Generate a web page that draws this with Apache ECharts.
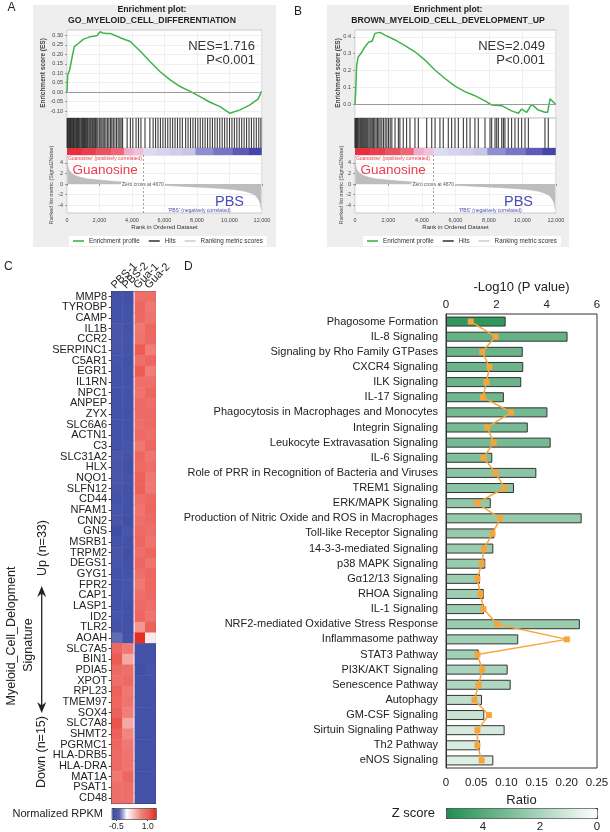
<!DOCTYPE html>
<html>
<head>
<meta charset="utf-8">
<script src="https://cdn.jsdelivr.net/npm/echarts@6/dist/echarts.min.js"></script>
<style>
  html, body { margin: 0; padding: 0; background: #fff; }
  #chart { width: 610px; height: 832px; }
</style>
</head>
<body>
<div id="chart"></div>
<script>
const FONT = '"Liberation Sans", Arial, sans-serif'

// ---- panel A / B : GSEA running enrichment score ----
const esRankA = [0, 40, 160, 300, 450, 715, 1020, 1200, 1430, 1600, 1840, 2040, 2200, 2400, 2660, 3000, 3280, 3890, 4500, 5120, 5730, 6350, 6960, 7580, 8190, 8800, 9420, 10030, 10650, 11260, 11770, 11970]
const esValA = [0, 0.09, 0.117, 0.179, 0.24, 0.258, 0.28, 0.285, 0.293, 0.295, 0.298, 0.319, 0.312, 0.31, 0.31, 0.298, 0.287, 0.267, 0.217, 0.161, 0.108, 0.065, 0.03, 0.004, -0.023, -0.053, -0.076, -0.111, -0.093, -0.067, -0.035, 0.005]
const esTicksA = [-0.10, -0.05, 0, 0.05, 0.10, 0.15, 0.20, 0.25, 0.30]

const esRankB = [0, 40, 100, 200, 360, 600, 800, 1030, 1190, 1490, 1790, 2390, 2980, 3580, 4180, 4770, 5370, 5970, 6560, 7160, 7760, 8160, 8760, 9350, 9750, 9950, 10250, 10550, 10950, 11340, 11500, 11640, 11980]
const esValB = [0, 0.075, 0.233, 0.282, 0.302, 0.341, 0.367, 0.375, 0.42, 0.426, 0.41, 0.381, 0.347, 0.311, 0.262, 0.203, 0.153, 0.108, 0.075, 0.051, 0.02, -0.004, -0.008, -0.039, -0.053, -0.028, -0.047, 0.0, -0.034, -0.047, -0.047, 0.032, 0]
const esTicksB = [0, 0.1, 0.2, 0.3, 0.4]

const hitsA = [10, 45, 80, 130, 170, 210, 260, 300, 350, 400, 440, 490, 540, 590, 650, 700, 750, 800, 860, 910, 960, 1020, 1080, 1130, 1190, 1250, 1300, 1370, 1430, 1490, 1560, 1620, 1700, 1760, 1830, 1900, 1990, 2080, 2150, 2230, 2320, 2400, 2500, 2580, 2680, 2760, 2850, 2950, 3050, 3150, 3250, 3330, 3420, 3700, 3900, 4050, 4250, 4400, 4550, 4800, 5100, 5300, 5450, 5600, 5750, 5900, 6050, 6200, 6350, 6500, 6650, 6800, 6950, 7100, 7300, 7450, 7600, 7750, 7900, 8050, 8200, 8350, 8500, 8650, 8800, 8950, 9100, 9250, 9400, 9550, 9700, 9850, 10000, 10150, 10300, 10450, 10600, 10750, 10900, 11050, 11200, 11350, 11500, 11650, 11800, 11930]
const hitsB = [0, 40, 90, 140, 190, 240, 300, 350, 400, 460, 520, 580, 640, 700, 760, 830, 900, 960, 1030, 1100, 1180, 1260, 1340, 1420, 1500, 1600, 1700, 1800, 1900, 2000, 2100, 2200, 2390, 2590, 2680, 2880, 3080, 3280, 3580, 3780, 4280, 4580, 4780, 5070, 5270, 5570, 5770, 5970, 6170, 6470, 6670, 6870, 7160, 7360, 7760, 8060, 8160, 8360, 8460, 8560, 8760, 8860, 8950, 9150, 9350, 9550, 9750, 9950, 10150, 10350, 11340, 11540]

const metricRank = [0, 30, 80, 150, 300, 500, 800, 1200, 1800, 2500, 3200, 4000, 4670, 5500, 6500, 7500, 8500, 9500, 10300, 10900, 11300, 11600, 11800, 11900, 11950]
const metricVal = [4.8, 3.8, 3.0, 2.5, 2.0, 1.6, 1.3, 1.0, 0.8, 0.6, 0.45, 0.25, 0, -0.2, -0.35, -0.5, -0.65, -0.85, -1.05, -1.35, -1.7, -2.2, -3.0, -3.8, -4.8]
const metricTicks = [-4, -2, 0, 2, 4]

const bandEdges = [0, 900, 1800, 2700, 3500, 4100, 4700, 5500, 6300, 7100, 7900, 9000, 10200, 11200, 11950]
const bandColors = ['#e5303d', '#e83f4e', '#ea5262', '#ec6676', '#f0acc9', '#edc2da', '#dddbf0', '#d6d4ee', '#cfcdeb', '#c8c6e8', '#8e8ed2', '#7676c6', '#5c5cb8', '#4444aa']

// ---- panel C : heatmap ----
const samples = ['PBS-1', 'PBS-2', 'Gua-1', 'Gua-2']
const genes = ['MMP8', 'TYROBP', 'CAMP', 'IL1B', 'CCR2', 'SERPINC1', 'C5AR1', 'EGR1', 'IL1RN', 'NPC1', 'ANPEP', 'ZYX', 'SLC6A6', 'ACTN1', 'C3', 'SLC31A2', 'HLX', 'NQO1', 'SLFN12', 'CD44', 'NFAM1', 'CNN2', 'GNS', 'MSRB1', 'TRPM2', 'DEGS1', 'GYG1', 'FPR2', 'CAP1', 'LASP1', 'ID2', 'TLR2', 'AOAH',
  'SLC7A5', 'BIN1', 'PDIA5', 'XPOT', 'RPL23', 'TMEM97', 'SOX4', 'SLC7A8', 'SHMT2', 'PGRMC1', 'HLA-DRB5', 'HLA-DRA', 'MAT1A', 'PSAT1', 'CD48']
const pbs1 = [-0.62, -0.62, -0.6, -0.55, -0.55, -0.58, -0.58, -0.6, -0.6, -0.62, -0.6, -0.62, -0.6, -0.6, -0.62, -0.55, -0.58, -0.55, -0.58, -0.62, -0.58, -0.56, -0.66, -0.6, -0.56, -0.58, -0.6, -0.62, -0.62, -0.6, -0.58, -0.6, -0.35,
  0.95, 1.05, 0.9, 0.85, 1.0, 0.95, 1.0, 1.1, 1.0, 0.95, 0.9, 0.9, 0.75, 0.85, 0.85]
const pbs2 = [-0.62, -0.6, -0.6, -0.6, -0.58, -0.6, -0.62, -0.6, -0.6, -0.6, -0.6, -0.62, -0.6, -0.6, -0.58, -0.6, -0.62, -0.6, -0.62, -0.6, -0.62, -0.64, -0.56, -0.62, -0.64, -0.62, -0.6, -0.58, -0.58, -0.62, -0.62, -0.62, -0.6,
  0.75, 0.45, 0.85, 0.9, 0.75, 0.8, 0.7, 0.45, 0.65, 0.75, 0.8, 0.8, 0.95, 0.85, 0.85]
const gua1 = [0.85, 0.95, 0.9, 0.75, 0.8, 1.05, 0.85, 1.05, 0.85, 0.8, 0.9, 0.9, 0.85, 0.9, 0.75, 0.95, 0.9, 1.0, 1.0, 0.85, 0.8, 0.85, 0.9, 0.95, 0.85, 0.95, 0.85, 0.75, 0.85, 0.9, 0.95, 0.55, 1.35,
  -0.62, -0.62, -0.64, -0.62, -0.62, -0.62, -0.6, -0.62, -0.62, -0.62, -0.62, -0.62, -0.62, -0.62, -0.62]
const gua2 = [0.85, 0.75, 0.8, 0.95, 0.9, 0.7, 0.95, 0.7, 0.85, 0.95, 0.85, 0.9, 0.9, 0.85, 0.95, 0.8, 0.85, 0.75, 0.75, 0.9, 0.95, 0.9, 0.85, 0.8, 0.95, 0.8, 0.95, 0.95, 0.9, 0.85, 0.8, 1.0, 0.1,
  -0.62, -0.62, -0.58, -0.6, -0.62, -0.62, -0.62, -0.62, -0.62, -0.62, -0.62, -0.62, -0.62, -0.62, -0.62]
const heatColors = ['#3a4aa3', '#5863b1', '#ffffff', '#f7c0bb', '#f07f7a', '#ec5e57', '#e52a1f']
const rpkmTicks = [-0.5, 1.0]

// ---- panel D : pathways ----
const pathways = ['Phagosome Formation', 'IL-8 Signaling', 'Signaling by Rho Family GTPases', 'CXCR4 Signaling', 'ILK Signaling', 'IL-17 Signaling', 'Phagocytosis in Macrophages and Monocytes', 'Integrin Signaling', 'Leukocyte Extravasation Signaling', 'IL-6 Signaling', 'Role of PRR in Recognition of Bacteria and Viruses', 'TREM1 Signaling', 'ERK/MAPK Signaling', 'Production of Nitric Oxide and ROS in Macrophages', 'Toll-like Receptor Signaling', '14-3-3-mediated Signaling', 'p38 MAPK Signaling', 'G\u03b112/13 Signaling', 'RHOA Signaling', 'IL-1 Signaling', 'NRF2-mediated Oxidative Stress Response', 'Inflammasome pathway', 'STAT3 Pathway', 'PI3K/AKT Signaling', 'Senescence Pathway', 'Autophagy', 'GM-CSF Signaling', 'Sirtuin Signaling Pathway', 'Th2 Pathway', 'eNOS Signaling']
const negLogP = [2.37, 4.83, 3.05, 3.07, 2.99, 2.30, 4.03, 3.25, 4.16, 1.84, 3.59, 2.70, 1.78, 5.39, 1.92, 1.88, 1.56, 1.35, 1.50, 1.51, 5.32, 2.87, 1.30, 2.45, 2.57, 1.43, 1.52, 2.33, 1.35, 1.88]
const ratio = [0.041, 0.082, 0.060, 0.072, 0.067, 0.061, 0.108, 0.068, 0.079, 0.062, 0.082, 0.097, 0.051, 0.090, 0.077, 0.063, 0.059, 0.052, 0.057, 0.062, 0.085, 0.200, 0.052, 0.060, 0.054, 0.047, 0.071, 0.052, 0.052, 0.059]
const zScore = [4.9, 3.6, 3.5, 3.5, 3.5, 3.4, 3.3, 3.2, 3.2, 3.0, 2.7, 2.7, 2.6, 2.5, 2.5, 2.4, 2.4, 2.3, 2.3, 2.3, 2.4, 2.2, 2.2, 2.0, 1.9, 1.5, 1.3, 1.0, 0.9, 0.8]
const zTicks = [0, 2, 4]

const grid = [], xAxis = [], yAxis = [], series = [], legend = [], graphic = []

function txt(x, y, text, style, extra) {
  graphic.push(Object.assign({
    type: 'text', x: x, y: y, z: 100,
    style: Object.assign({ text: text, fontFamily: FONT, fontSize: 11, fill: '#222', align: 'left', verticalAlign: 'middle' }, style)
  }, extra || {}))
}

function gsea(p) {
  const L = p.left, W = p.width
  const base = grid.length
  graphic.push({ type: 'rect', z: -10, shape: { x: p.box[0], y: 5, width: p.box[1] - p.box[0], height: 242 }, style: { fill: '#eeeeee' } })
  ;[[30, 88, true], [118, 30, true], [148, 7, false], [155, 58, true]].forEach(g => {
    grid.push({ left: L, top: g[0], width: W, height: g[1], show: g[2], backgroundColor: '#fff', borderColor: '#c8c8c8', borderWidth: 1, outerBoundsMode: 'none' })
  })
  const xi = xAxis.length, yi = yAxis.length
  for (let k = 0; k < 4; k++) {
    xAxis.push({
      type: 'value', gridIndex: base + k, min: 0, max: 12000, interval: 2000,
      axisLine: { show: false },
      axisTick: { show: k === 3, length: 2, lineStyle: { color: '#999' } },
      axisLabel: { show: k === 3, fontSize: 5.5, color: '#444', margin: 4, formatter: v => v.toLocaleString('en-US') },
      splitLine: { show: k === 0 || k === 3, lineStyle: { color: '#ececec', width: 0.8 } }
    })
  }
  Object.assign(xAxis[xi + 3], {
    name: 'Rank in Ordered Dataset', nameLocation: 'middle', nameGap: 11,
    nameTextStyle: { fontSize: 6, color: '#333', fontFamily: FONT }
  })
  yAxis.push({
    type: 'value', gridIndex: base, min: p.esMin, max: p.esMax,
    axisLine: { show: false },
    axisTick: { show: true, customValues: p.esTicks, length: 2, lineStyle: { color: '#999' } },
    axisLabel: { customValues: p.esTicks, fontSize: 5.5, color: '#444', margin: 4, formatter: v => v.toFixed(p.esDigits) },
    splitLine: { lineStyle: { color: '#ececec', width: 0.8 } }
  })
  yAxis.push({ type: 'value', gridIndex: base + 1, min: 0, max: 1, show: false })
  yAxis.push({ type: 'value', gridIndex: base + 2, min: 0, max: 1, show: false })
  yAxis.push({
    type: 'value', gridIndex: base + 3, min: -5.5, max: 5.5,
    axisLine: { show: false },
    axisTick: { show: true, customValues: metricTicks, length: 2, lineStyle: { color: '#999' } },
    axisLabel: { customValues: metricTicks, fontSize: 5.5, color: '#444', margin: 4 },
    splitLine: { lineStyle: { color: '#ececec', width: 0.8 } }
  })

  series.push({
    type: 'line', name: 'Enrichment profile', xAxisIndex: xi, yAxisIndex: yi,
    data: p.esRank.map((r, i) => [r, p.esVal[i]]),
    showSymbol: false, symbol: 'none', color: '#3db449',
    lineStyle: { color: '#3db449', width: 1.5 },
    markLine: { silent: true, symbol: 'none', label: { show: false }, lineStyle: { color: '#9a9a9a', width: 1, type: 'solid' }, data: [{ yAxis: 0 }] }
  })
  series.push({
    type: 'scatter', name: 'Hits', xAxisIndex: xi + 1, yAxisIndex: yi + 1,
    data: p.hits.map(h => [h, 0.5]), symbol: 'rect', symbolSize: [1.1, 30],
    color: '#333', itemStyle: { color: '#1a1a1a', opacity: 0.85 }, silent: true
  })
  series.push({
    type: 'custom', xAxisIndex: xi + 2, yAxisIndex: yi + 2, silent: true,
    data: bandEdges.slice(0, -1).map((s, i) => [s, bandEdges[i + 1], i]),
    encode: { x: [0, 1] },
    renderItem: (params, api) => {
      const a = api.coord([api.value(0), 1])
      const b = api.coord([api.value(1), 0])
      return { type: 'rect', shape: { x: a[0], y: a[1], width: b[0] - a[0] + 0.6, height: b[1] - a[1] }, style: { fill: bandColors[api.value(2)] } }
    }
  })
  series.push({
    type: 'line', name: 'Ranking metric scores', xAxisIndex: xi + 3, yAxisIndex: yi + 3,
    data: metricRank.map((r, i) => [r, metricVal[i]]),
    showSymbol: false, symbol: 'none', color: '#cfcfcf',
    lineStyle: { width: 0.5, color: '#b5b5b5' },
    areaStyle: { color: '#bdbdbd', opacity: 1 },
    markLine: { silent: true, symbol: 'none', label: { show: false }, lineStyle: { color: '#8a8a8a', width: 0.8, type: [2, 2] }, data: [{ xAxis: 4670 }] }
  })
  legend.push({
    left: p.legendLeft, top: 236, data: ['Enrichment profile', 'Hits', 'Ranking metric scores'],
    icon: 'rect', itemWidth: 11, itemHeight: 1.6, itemGap: 9, selectedMode: false,
    textStyle: { fontSize: 6.3, color: '#333', fontFamily: FONT },
    backgroundColor: '#fff', padding: [2, 4]
  })

  txt(p.titleX, 10, 'Enrichment plot:', { fontSize: 8.7, fontWeight: 'bold', align: 'center' })
  txt(p.titleX, 20.7, p.title, { fontSize: 8.7, fontWeight: 'bold', align: 'center' })
  txt(p.nesRight, 46.7, p.nes, { fontSize: 13, fill: '#333', align: 'right' })
  txt(p.nesRight, 60, 'P<0.001', { fontSize: 13, fill: '#333', align: 'right' })
  txt(L + 5.5, 170.5, 'Guanosine', { fontSize: 13.5, fill: '#f03c4c' })
  txt(p.pbsLeft, 201.5, 'PBS', { fontSize: 14.5, fill: '#4a4fb0' })
  txt(L, 158.3, "'Guanosine' (positively correlated)", { fontSize: 5, fill: '#e8404a' })
  txt(p.pbsSmallLeft, 211, "'PBS' (negatively correlated)", { fontSize: 5, fill: '#4a4fb0' })
  txt(L + 4670 / 12000 * W, 185, 'Zero cross at 4670', { fontSize: 5, fill: '#555', align: 'center', backgroundColor: '#fff', padding: [0, 1] })
  txt(p.esNameX, 73, 'Enrichment score (ES)', { fontSize: 6.5, fontWeight: 'bold', fill: '#444', align: 'center' }, { rotation: Math.PI / 2 })
  txt(p.rankNameX, 185, 'Ranked list metric (Signal2Noise)', { fontSize: 5.3, fill: '#444', align: 'center' }, { rotation: Math.PI / 2 })
}

gsea({
  left: 67, width: 195, box: [33, 276], titleX: 152,
  esRank: esRankA, esVal: esValA, esMin: -0.136, esMax: 0.328, esTicks: esTicksA, esDigits: 2,
  hits: hitsA, legendLeft: 69, title: 'GO_MYELOID_CELL_DIFFERENTIATION', nes: 'NES=1.716',
  nesRight: 255, pbsLeft: 215, pbsSmallLeft: 168, esNameX: 43.3, rankNameX: 51.7
})
gsea({
  left: 355, width: 201, box: [327, 569], titleX: 448,
  esRank: esRankB, esVal: esValB, esMin: -0.081, esMax: 0.44, esTicks: esTicksB, esDigits: 1,
  hits: hitsB, legendLeft: 363, title: 'BROWN_MYELOID_CELL_DEVELOPMENT_UP', nes: 'NES=2.049',
  nesRight: 545, pbsLeft: 504, pbsSmallLeft: 459, esNameX: 338.3, rankNameX: 341.5
})

// ---- heatmap (two blocks with white gap) ----
const heatSeries = []
;[[111.7, 21.6, samples.slice(0, 2), [pbs1, pbs2]], [134.8, 20.9, samples.slice(2), [gua1, gua2]]].forEach((blk, b) => {
  const gi = grid.length
  grid.push({ left: blk[0], top: 291.4, width: blk[1], height: 512, outerBoundsMode: 'none' })
  const xi = xAxis.length, yi = yAxis.length
  xAxis.push({
    type: 'category', gridIndex: gi, position: 'top', data: blk[2],
    axisLine: { lineStyle: { color: '#333' } },
    axisTick: { alignWithLabel: true, length: 3, lineStyle: { color: '#333' } },
    axisLabel: { show: false }
  })
  xAxis.push({ type: 'category', gridIndex: gi, position: 'bottom', data: blk[2], axisLine: { lineStyle: { color: '#333' } }, axisTick: { show: false }, axisLabel: { show: false } })
  yAxis.push({
    type: 'category', gridIndex: gi, data: genes, inverse: true, position: b === 0 ? 'left' : 'right',
    axisLine: { lineStyle: { color: '#333' } },
    axisTick: { show: b === 0, alignWithLabel: true, length: 3, lineStyle: { color: '#333' } },
    axisLabel: { show: b === 0, fontSize: 11, color: '#222', margin: 4.5, interval: 0 }
  })
  const data = []
  blk[3].forEach((col, c) => col.forEach((v, r) => data.push([c, r, v])))
  heatSeries.push(series.length)
  series.push({ type: 'heatmap', xAxisIndex: xi, yAxisIndex: yi, data: data, itemStyle: { borderWidth: 0 }, silent: true })
})
// slanted sample names above the columns
;[113, 124, 135.5, 146.5].forEach((x, i) => {
  txt(x, 287, samples[i], { fontSize: 11 }, { rotation: Math.PI / 4 })
})

// colour key axis for the heatmap
const gHC = grid.length
grid.push({ left: 111.7, top: 808, width: 44, height: 11, outerBoundsMode: 'none' })
xAxis.push({
  type: 'value', gridIndex: gHC, min: -0.72, max: 1.38,
  axisLine: { show: false }, splitLine: { show: false },
  axisTick: { customValues: rpkmTicks, length: 2, lineStyle: { color: '#333' } },
  axisLabel: { customValues: rpkmTicks, fontSize: 8.5, color: '#222', margin: 3, formatter: v => v.toFixed(1) }
})
yAxis.push({ type: 'value', gridIndex: gHC, min: 0, max: 1, show: false })

// ---- panel D ----
const gD = grid.length
grid.push({ left: 446, top: 314, width: 151, height: 454, show: true, borderColor: '#333', borderWidth: 1, outerBoundsMode: 'none' })
const xTop = xAxis.length
xAxis.push({
  type: 'value', gridIndex: gD, position: 'top', min: 0, max: 6, interval: 2,
  name: '-Log10 (P value)', nameLocation: 'middle', nameGap: 17,
  nameTextStyle: { fontSize: 13, color: '#222', fontFamily: FONT },
  axisLine: { lineStyle: { color: '#333' } },
  axisTick: { length: 4, lineStyle: { color: '#333' } },
  axisLabel: { fontSize: 11.5, color: '#222', margin: 3 },
  splitLine: { show: false }
})
const xBot = xAxis.length
xAxis.push({
  type: 'value', gridIndex: gD, position: 'bottom', min: 0, max: 0.25, interval: 0.05,
  name: 'Ratio', nameLocation: 'middle', nameGap: 19,
  nameTextStyle: { fontSize: 13, color: '#222', fontFamily: FONT },
  axisLine: { lineStyle: { color: '#333' } },
  axisTick: { length: 5, lineStyle: { color: '#333' } },
  axisLabel: { fontSize: 11.5, color: '#222', margin: 9, formatter: v => v === 0 ? '0' : v.toFixed(2) },
  splitLine: { show: false }
})
const yD = yAxis.length
yAxis.push({
  type: 'category', gridIndex: gD, data: pathways, inverse: true,
  axisLine: { lineStyle: { color: '#333' } },
  axisTick: { alignWithLabel: true, length: 5, lineStyle: { color: '#333' } },
  axisLabel: { fontSize: 11, color: '#222', margin: 8, interval: 0 }
})
const barIdx = series.length
series.push({
  type: 'bar', xAxisIndex: xTop, yAxisIndex: yD, barWidth: 10,
  data: pathways.map((n, i) => [negLogP[i], i, zScore[i]]),
  encode: { x: 0, y: 1 },
  itemStyle: { borderColor: '#333', borderWidth: 1 }, silent: true
})
series.push({
  type: 'line', xAxisIndex: xBot, yAxisIndex: yD,
  data: ratio.map((r, i) => [r, i]),
  symbol: 'rect', symbolSize: 6, z: 5,
  lineStyle: { color: '#f7a53b', width: 1.5 }, itemStyle: { color: '#f7a53b' }, silent: true
})

// z-score key axis
const gZ = grid.length
grid.push({ left: 446, top: 808, width: 151, height: 10, outerBoundsMode: 'none' })
xAxis.push({
  type: 'value', gridIndex: gZ, min: 0, max: 5.3, inverse: true, position: 'bottom',
  axisLine: { show: false }, splitLine: { show: false }, axisTick: { show: false },
  axisLabel: { customValues: zTicks, fontSize: 11.5, color: '#222', margin: 2.5 }
})
xAxis.push({
  type: 'value', gridIndex: gZ, min: 0, max: 5.3, inverse: true, position: 'top',
  axisLine: { show: false }, splitLine: { show: false }, axisLabel: { show: false },
  axisTick: { inside: true, customValues: [2, 4], length: 3, lineStyle: { color: '#333' } }
})
yAxis.push({ type: 'value', gridIndex: gZ, min: 0, max: 1, show: false })

// ---- free text ----
txt(7.5, 8, 'A', { fontSize: 12 })
txt(294, 11.5, 'B', { fontSize: 12 })
txt(4, 267, 'C', { fontSize: 12 })
txt(184, 267, 'D', { fontSize: 12 })
txt(12, 636, 'Myeloid_Cell_Delopment', { fontSize: 12.5, align: 'center' }, { rotation: Math.PI / 2 })
txt(28.5, 645, 'Signature', { fontSize: 12.5, align: 'center' }, { rotation: Math.PI / 2 })
txt(43, 548, 'Up (n=33)', { fontSize: 12.5, align: 'center' }, { rotation: Math.PI / 2 })
txt(42, 752, 'Down (n=15)', { fontSize: 12.5, align: 'center' }, { rotation: Math.PI / 2 })
txt(103, 814, 'Normalized RPKM', { fontSize: 11, align: 'right' })
txt(435, 813, 'Z score', { fontSize: 13, align: 'right' })
graphic.push({ type: 'line', z: 100, shape: { x1: 41.7, y1: 590, x2: 41.7, y2: 709 }, style: { stroke: '#222', lineWidth: 1.3 } })
graphic.push({ type: 'polygon', z: 100, shape: { points: [[41.7, 586], [37.2, 597], [41.7, 593.5], [46.2, 597]] }, style: { fill: '#222' } })
graphic.push({ type: 'polygon', z: 100, shape: { points: [[41.7, 713], [37.2, 702], [41.7, 705.5], [46.2, 702]] }, style: { fill: '#222' } })

const chart = echarts.init(document.getElementById('chart'))
chart.setOption({
  animation: false,
  backgroundColor: '#fff',
  textStyle: { fontFamily: FONT },
  grid: grid,
  xAxis: xAxis,
  yAxis: yAxis,
  legend: legend,
  visualMap: [
    {
      type: 'continuous', seriesIndex: heatSeries, dimension: 2, min: -0.72, max: 1.38,
      inRange: { color: heatColors }, orient: 'horizontal', left: 111.7, top: 808,
      itemWidth: 11, itemHeight: 44, calculable: false, hoverLink: false, padding: 0,
      borderColor: '#333', borderWidth: 1
    },
    {
      type: 'continuous', seriesIndex: [barIdx], dimension: 2, min: 0, max: 5.3,
      inRange: { color: ['#ffffff', '#1e8e4f'] }, orient: 'horizontal', inverse: true, left: 446, top: 808,
      itemWidth: 10, itemHeight: 151, calculable: false, hoverLink: false, padding: 0,
      borderColor: '#333', borderWidth: 1
    }
  ],
  series: series,
  graphic: { elements: graphic }
})
</script>
</body>
</html>
